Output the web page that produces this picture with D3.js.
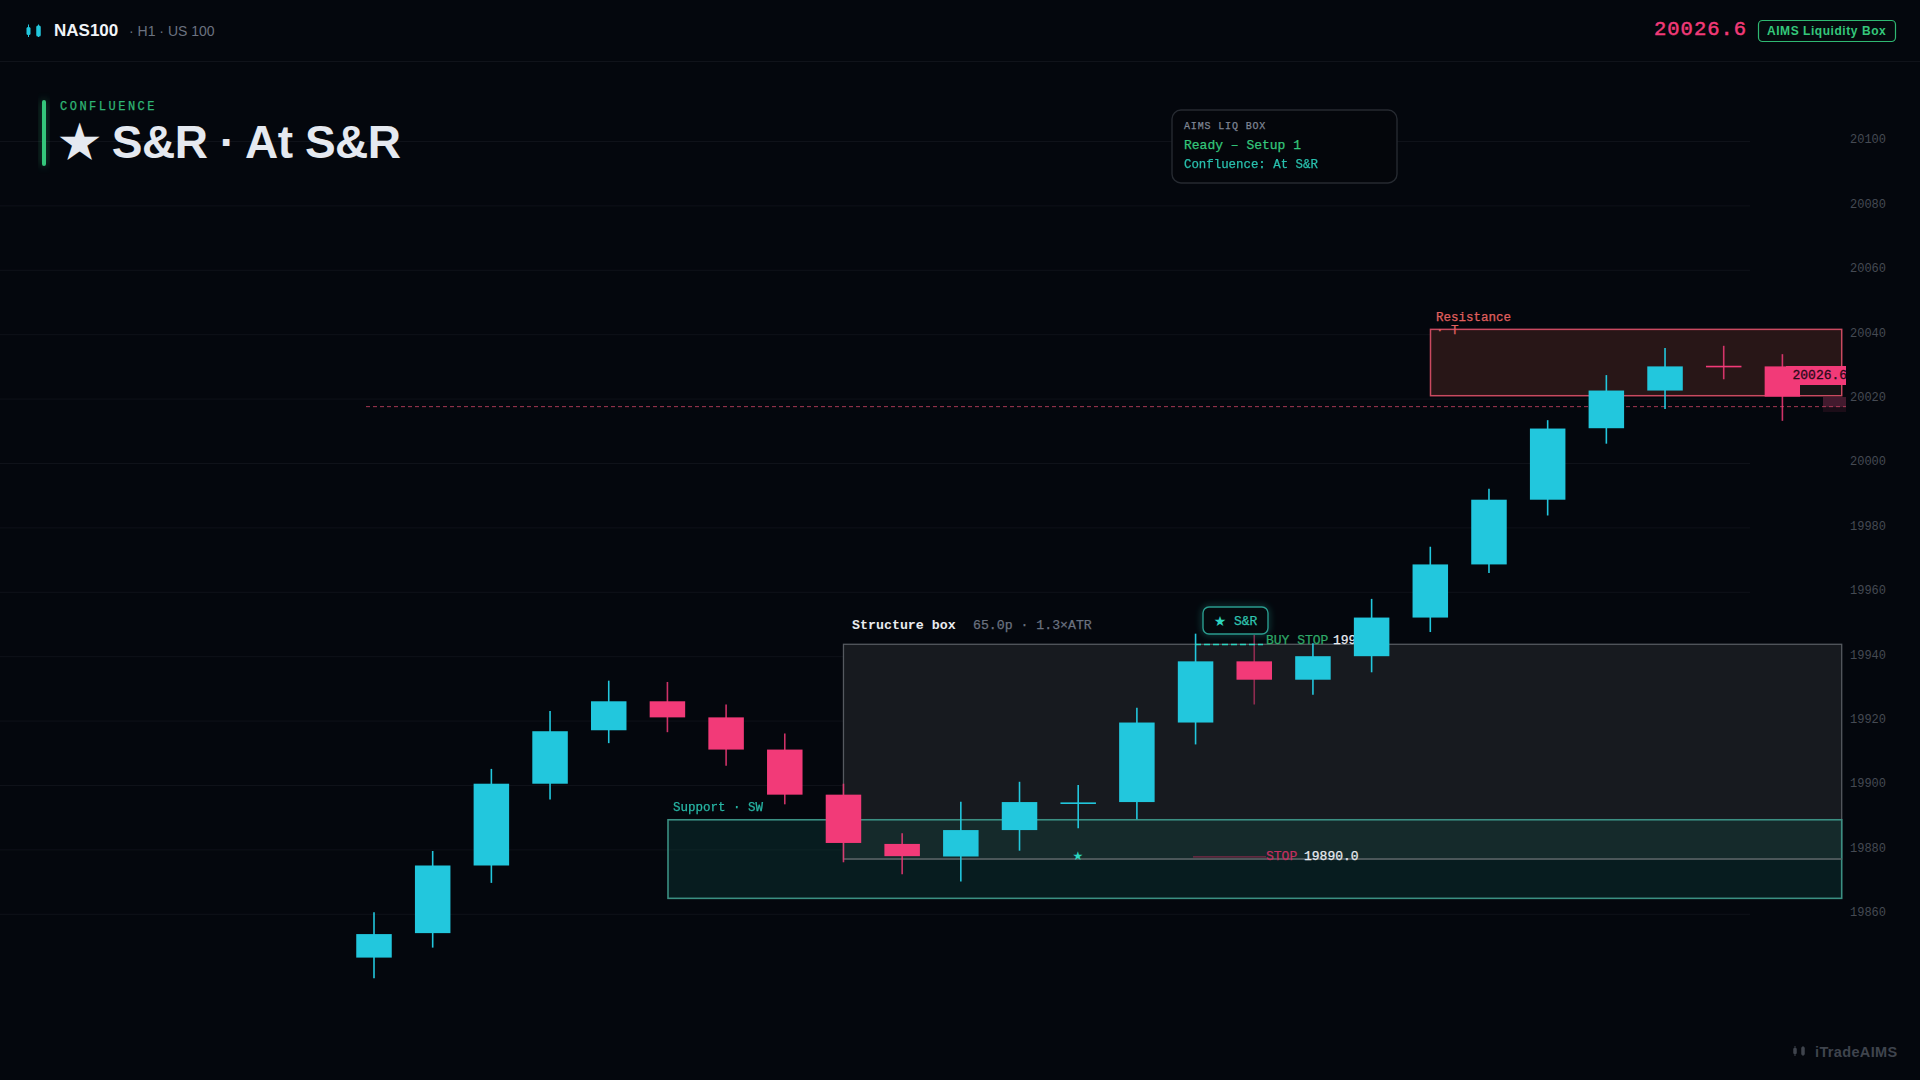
<!DOCTYPE html>
<html><head><meta charset="utf-8">
<script src="https://cdn.jsdelivr.net/npm/d3@7"></script>
<style>
html,body{margin:0;padding:0;background:#04070d;overflow:hidden}
svg{display:block}
text{white-space:pre}
.mono{font-family:"Liberation Mono",monospace}
.sans{font-family:"Liberation Sans",Arial,sans-serif}
.sym{font-family:"DejaVu Sans",sans-serif}
</style></head><body>
<script>
const opens  = [19846.4,19854,19875,19900.4,19917,19926,19921,19911,19897,19881.7,19877.8,19886,19894.4,19894.7,19919.4,19938.4,19932.7,19940,19952,19968.5,19988.6,20010.8,20022.5,20030.2,20030];
const closes = [19853.7,19875,19900.4,19916.7,19926,19921,19911,19897,19882,19877.9,19886,19894.7,19894.6,19919.4,19938.4,19932.7,19940,19952,19968.5,19988.6,20010.7,20022.5,20030,20030,20020.6];
const highs  = [19860.5,19879.5,19905,19923,19932.4,19932,19925,19916,19900.4,19885,19894.8,19901,19900,19924,19947,19946.6,19944,19957.8,19974,19992,20013.3,20027.3,20035.7,20036.4,20033.8];
const lows   = [19840,19849.5,19869.6,19895.5,19913,19916.4,19906,19894,19876,19872.3,19870,19879.6,19886.6,19889.4,19912.6,19925,19928,19935,19947.5,19965.8,19983.7,20006,20016.8,20026,20013.1];
const priceTicks = [20100,20080,20060,20040,20020,20000,19980,19960,19940,19920,19900,19880,19860];
const resistanceZone = [20020.9,20041.5];
const supportZone = [19864.8,19889.2];
const structureZone = [19877,19943.7];
const lastPrice = 20026.6, tagPrice = 20027.3, dashedPrice = 20017.5, stopPrice = 19877.5, buyPrice = 19943.6;

const W=1920,H=1080;
const svg=d3.select("body").append("svg").attr("width",W).attr("height",H);
const defs=svg.append("defs");
const blur=(id,s)=>defs.append("filter").attr("id",id).attr("x","-100%").attr("y","-100%").attr("width","300%").attr("height","300%")
  .call(f=>{f.append("feGaussianBlur").attr("stdDeviation",s)});
blur("glow4",4);blur("glow3",3);
defs.append("clipPath").attr("id","plotClip").append("rect").attr("x",0).attr("y",0).attr("width",1846).attr("height",H);

const x=d3.scaleLinear().domain([0,24]).range([374,1782.4]);
const y=d3.scaleLinear().domain([19860,20100]).range([913.8,141]);
const bodyW=35.5;
const UP="#22c7dd",DN="#f23a78",GREEN="#34c77b",TEAL="#2dd4bf";

svg.append("rect").attr("width",W).attr("height",H).attr("fill","#04070d");

// header rule
svg.append("line").attr("x1",0).attr("x2",W).attr("y1",61.5).attr("y2",61.5).attr("stroke","#10131a");

// grid
svg.append("g").selectAll("line").data(priceTicks).join("line")
  .attr("x1",0).attr("x2",1750).attr("y1",d=>y(d)+.5).attr("y2",d=>y(d)+.5)
  .attr("stroke","#0f1219");

// y axis
const axis=svg.append("g").attr("transform","translate(1850,-2)")
  .call(d3.axisRight(y).tickValues(priceTicks).tickSize(0).tickPadding(0).tickFormat(d3.format("d")));
axis.select(".domain").remove();
axis.selectAll("text").attr("fill","#454a53").style("font-size","12px").style("font-family","'Liberation Mono',monospace");

// zones
const zone=(xa,xb,z,fill,stroke,sw)=>svg.append("rect").attr("x",xa).attr("width",xb-xa)
  .attr("y",y(z[1])).attr("height",y(z[0])-y(z[1])).attr("fill",fill).attr("stroke",stroke).attr("stroke-width",sw);
zone(x(8),1841.7,structureZone,"#171a1f","#55595f",1.3);
zone(1430.5,1841.7,resistanceZone,"#281617","#c94a60",1.5);
zone(668,1841.7,supportZone,"rgba(16,80,72,.3)","#3b8f82",1.6);
svg.append("line").attr("x1",x(8)).attr("x2",1841.7).attr("y1",y(structureZone[0])).attr("y2",y(structureZone[0])).attr("stroke","#565d60").attr("stroke-width",1.5);

// dashed reference line
svg.append("rect").attr("x",1823).attr("y",397).attr("width",23).attr("height",10).attr("fill","#431a2e");
svg.append("rect").attr("x",1823).attr("y",407).attr("width",23).attr("height",5).attr("fill","#1c0d18");
svg.append("line").attr("x1",366).attr("x2",1846).attr("y1",y(dashedPrice)).attr("y2",y(dashedPrice))
  .attr("stroke","#c0405f").attr("stroke-width",1).attr("stroke-dasharray","4 3").attr("opacity",.85);

// stop line
svg.append("line").attr("x1",1193).attr("x2",1266).attr("y1",y(stopPrice)-.5).attr("y2",y(stopPrice)-.5).attr("stroke","#7d2a48").attr("stroke-width",1.3);

const t=(xp,yp,s,fill,size,cls="mono",weight="normal",ls=0)=>{
  const e=svg.append("text").attr("class",cls).attr("x",xp).attr("y",yp)
  .attr("dominant-baseline","central").attr("fill",fill).attr("font-size",size).attr("font-weight",weight).attr("letter-spacing",ls).text(s);
  if(cls==="mono"&&weight==="normal") e.attr("stroke",fill).attr("stroke-width",.25);
  return e;};
t(1266,640,"BUY STOP","#2fa868",13);
t(1333,640,"19943.7","#e8ebf0",13);
t(1266,856.5,"STOP","#c42f60",13);
t(1304,856.5,"19890.0","#e8ebf0",13);

// candles
const idx=d3.range(opens.length);
const color=i=>(i===12?UP:(closes[i]>=opens[i]?UP:DN));
const g=svg.append("g");
g.selectAll("line.w").data(idx).join("line").attr("class","w")
  .attr("x1",x).attr("x2",x).attr("y1",i=>y(highs[i])).attr("y2",i=>y(lows[i]))
  .attr("stroke",color).attr("stroke-width",1.6)
  .attr("stroke-opacity",i=>i===15?.55:(color(i)===DN?.85:1));
g.selectAll("rect.b").data(idx).join("rect").attr("class","b")
  .attr("x",i=>x(i)-bodyW/2).attr("width",bodyW)
  .attr("y",i=>y(Math.max(opens[i],closes[i])))
  .attr("height",i=>Math.max(1.6,Math.abs(y(opens[i])-y(closes[i]))))
  .attr("fill",color);

// buy dashes over candles
svg.append("line").attr("x1",1195).attr("x2",1263).attr("y1",y(buyPrice)).attr("y2",y(buyPrice))
  .attr("stroke",TEAL).attr("stroke-width",1.5).attr("stroke-dasharray","6 3");

// star marker
svg.append("text").attr("class","sym").attr("x",1078).attr("y",856).attr("dominant-baseline","central").attr("text-anchor","middle")
  .attr("fill",TEAL).attr("font-size",12).text("★");

// price tag
const tag=svg.append("g").attr("clip-path","url(#plotClip)");
tag.append("rect").attr("x",1800).attr("y",385).attr("width",41).attr("height",10).attr("fill","#191416");
tag.append("rect").attr("x",1786).attr("y",366).attr("width",64).attr("height",19).attr("fill",DN);
tag.append("text").attr("class","mono").attr("x",1792.5).attr("y",y(tagPrice)).attr("dominant-baseline","central")
  .attr("fill","#2a0a18").attr("font-size",13).attr("stroke","#2a0a18").attr("stroke-width",.3).text(d3.format(".1f")(lastPrice));

// zone labels
t(1436,318,"Resistance","#e0605f",12.5);
t(1436,331,"· T","#e0605f",12.5);
t(673,808,"Support · SW",TEAL,12.5).attr("opacity",.85);
t(852,625,"Structure box","#e8ebf0",13.3,"mono","bold");
t(973,625,"65.0p · 1.3×ATR","#6b7280",13.2);

// pill
svg.append("rect").attr("x",1203).attr("y",607).attr("width",65).attr("height",27).attr("rx",6)
  .attr("fill","none").attr("stroke",TEAL).attr("stroke-width",3).attr("opacity",.35).attr("filter","url(#glow3)");
svg.append("rect").attr("x",1203).attr("y",607).attr("width",65).attr("height",27).attr("rx",6)
  .attr("fill","#050a0e").attr("stroke","#2a9c8e").attr("stroke-width",1.4);
svg.append("text").attr("class","sym").attr("x",1220).attr("y",621).attr("dominant-baseline","central").attr("text-anchor","middle")
  .attr("fill",TEAL).attr("font-size",14).text("★");
t(1234,621,"S&R","#2fc4b0",13);

// header
[[28.5,4,8],[38.5,4.5,11]].forEach(([cx,w,h])=>{
  svg.append("line").attr("x1",cx).attr("x2",cx).attr("y1",24.5).attr("y2",37).attr("stroke",UP).attr("stroke-width",1);
  svg.append("rect").attr("x",cx-w/2).attr("y",31-h/2).attr("width",w).attr("height",h).attr("rx",1.5).attr("fill",UP);
});
t(54,30,"NAS100","#f1f4f8",17,"sans","bold");
t(129,31,"· H1 · US 100","#6b7280",14,"sans");
t(1654,29.5,"20026.6",DN,20.5,"mono","normal",1).attr("stroke-width",.5);
svg.append("rect").attr("x",1758.5).attr("y",20.5).attr("width",137).attr("height",21).attr("rx",4).attr("fill","#050a0e").attr("stroke","#2fb872").attr("stroke-width",1.2);
t(1767,31,"AIMS Liquidity Box",GREEN,12,"sans","bold",.55);

// title block
svg.append("rect").attr("x",42).attr("y",100).attr("width",4).attr("height",66).attr("rx",2).attr("fill",GREEN).attr("opacity",.5).attr("filter","url(#glow4)");
svg.append("rect").attr("x",42).attr("y",100).attr("width",4).attr("height",66).attr("rx",2).attr("fill",GREEN);
t(60,107,"CONFLUENCE","#2fb574",12,"mono","normal",2.5);
svg.append("text").attr("class","sans").attr("x",59).attr("y",158).attr("fill","#e5e9f0").attr("font-size",46).attr("font-weight","bold").attr("letter-spacing",-.5).text("★ S&R · At S&R");

// info panel
svg.append("rect").attr("x",1172).attr("y",110).attr("width",225).attr("height",73).attr("rx",9).attr("fill","#04060b").attr("stroke","#262a31").attr("stroke-width",1.4);
t(1184,126,"AIMS LIQ BOX","#7f8594",10,"mono","normal",.85);
t(1184,145,"Ready – Setup 1",GREEN,13);
t(1184,164.5,"Confluence: At S&R",TEAL,12.4).attr("opacity",.9);

// watermark
[[1795,3.5,6],[1803,3.5,8]].forEach(([cx,w,h])=>{
  svg.append("line").attr("x1",cx).attr("x2",cx).attr("y1",1046).attr("y2",1056).attr("stroke","#3f444d");
  svg.append("rect").attr("x",cx-w/2).attr("y",1051-h/2).attr("width",w).attr("height",h).attr("rx",1).attr("fill","#3f444d");
});
t(1815,1052,"iTradeAIMS","#3f444d",14.5,"sans","bold",.35);
</script>
</body></html>
